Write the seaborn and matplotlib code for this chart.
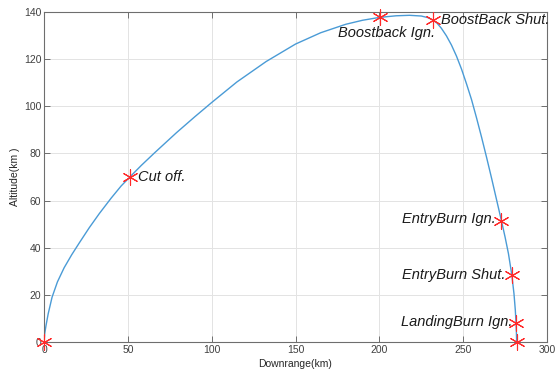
import matplotlib
matplotlib.use("Agg")
import matplotlib.pyplot as plt
import seaborn as sns
import pandas as pd

# Trajectory
downrange = [0, 0.4, 1.2, 2.5, 4.8, 8, 12, 16.5, 21, 27, 33, 40, 46, 51.2, 58,
             66, 79, 90, 100, 115, 132.5, 150, 165, 180, 190, 200, 210, 218,
             225, 229, 232, 234.5, 237, 240, 243, 246, 249, 252, 255, 258, 261,
             264, 267, 269.8, 272.8, 275, 277, 279, 280.3, 281.1, 281.5,
             281.75, 281.9]
altitude = [0, 3.5, 7, 12, 19, 25.5, 31.5, 37, 42, 48.5, 54.5, 61, 66.2, 70,
            74.9, 80.3, 88.8, 95.6, 101.6, 110.3, 119, 126.4, 131.2, 134.8,
            136.5, 137.7, 138.4, 138.6, 138.3, 137.6, 136.6, 135.2, 133.1,
            129.9, 126.0, 121.3, 115.8, 109.5, 102.8, 95, 86.8, 78.2, 69.3,
            60.7, 51.5, 44.5, 37.5, 28.5, 20.5, 13.5, 8.3, 4, 0]

# Events
event_x = [0, 51.2, 200.5, 232, 272.8, 279.1, 281.5, 281.9]
event_y = [0, 70, 137.7, 136.6, 51.5, 28.4, 8.1, 0]
labels = ["", "Cut off.", "Boostback Ign.", "BoostBack Shut.", "EntryBurn Ign.",
          "EntryBurn Shut.", "LandingBurn Ign.", ""]
label_x = [0, 56, 175.5, 236.5, 213.5, 213.5, 213.0, 0]
label_y = [0, 70, 131.0, 136.6, 52.0, 28.6, 8.4, 0]

sns.set_style("whitegrid")
plt.rcParams['font.family'] = ['Liberation Sans', 'DejaVu Sans']

fig = plt.figure(figsize=(5.55, 3.73), dpi=100)
ax = fig.add_axes([0.0793, 0.0831, 0.9063, 0.8847])

traj = pd.DataFrame({"x": downrange, "y": altitude})
sns.lineplot(data=traj, x="x", y="y", sort=False, estimator=None,
             color="#4A9BD6", linewidth=1.0, ax=ax)

ev = pd.DataFrame({"x": event_x, "y": event_y})
sns.scatterplot(data=ev, x="x", y="y", marker=(6, 2, 0), s=120,
                color="#FF2A2A", edgecolor="#FF2A2A", linewidth=0.8, ax=ax,
                zorder=5, clip_on=False)

for t, lx, ly in zip(labels, label_x, label_y):
    if t:
        ax.text(lx, ly, t, style="italic", fontsize=10.5, color="#1a1a1a",
                ha="left", va="center")

ax.set_xlim(0, 300)
ax.set_ylim(0, 140)
ax.set_xticks(range(0, 301, 50))
ax.set_yticks(range(0, 141, 20))
ax.set_xlabel("Downrange(km)", fontsize=7.5, color="#262626", labelpad=3)
ax.set_ylabel("Altitude(km )", fontsize=7.5, color="#262626", labelpad=3)

ax.grid(True, color="#E3E3E3", linewidth=0.7)
for s in ax.spines.values():
    s.set_visible(True)
    s.set_color("#6E6E6E")
    s.set_linewidth(0.8)
ax.tick_params(axis="both", which="both", direction="in", length=4, width=0.7,
               color="#6E6E6E", labelsize=7.5, labelcolor="#404040",
               top=True, right=True, bottom=True, left=True, pad=2)
ax.set_facecolor("white")
fig.patch.set_facecolor("white")

fig.savefig("out.png", dpi=100)
